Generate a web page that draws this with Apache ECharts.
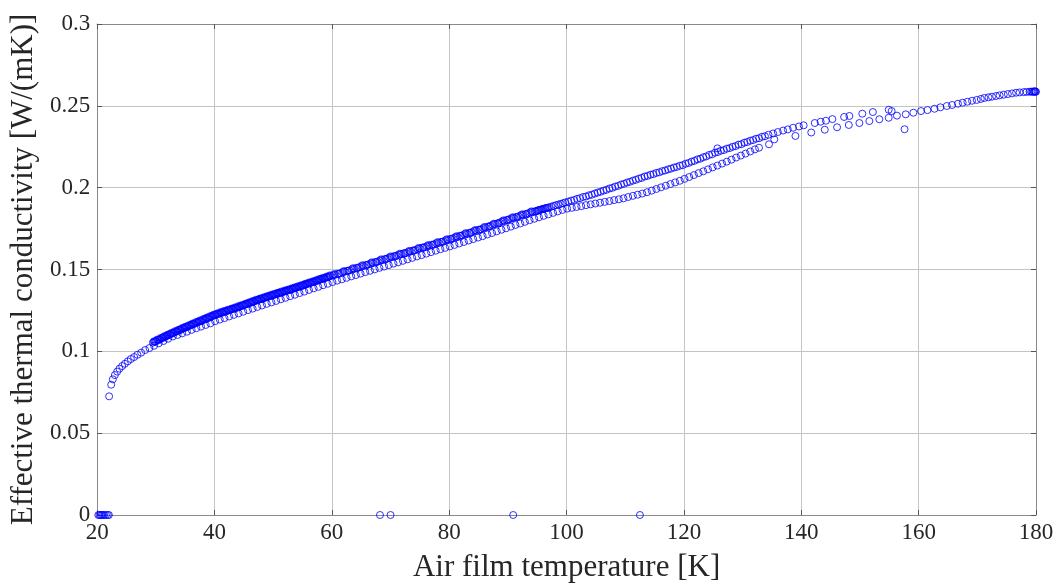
<!DOCTYPE html>
<html>
<head>
<meta charset="utf-8">
<script src="https://cdn.jsdelivr.net/npm/echarts@6/dist/echarts.min.js"></script>
<style>
  html, body { margin: 0; padding: 0; background: #ffffff; }
  #chart { width: 1058px; height: 588px; }
</style>
</head>
<body>
<div id="chart"></div>
<script>
// Axis ranges and ticks
const xRange = [20, 180];
const xStep = 20;
const yRange = [0, 0.3];
const yStep = 0.05;

const xTitle = 'Air film temperature [K]';
const yTitle = 'Effective thermal conductivity [W/(mK)]';

// Lower track: temperature [K], conductivity [W/(mK)]
const lowerTrack = [
  [22.04, 0.0725], [22.39, 0.0796], [22.67, 0.0829], [23.02, 0.0855], [23.41, 0.0876],
  [23.80, 0.0894], [24.26, 0.0910], [24.72, 0.0924], [25.23, 0.0939], [25.74, 0.0953],
  [26.30, 0.0965], [26.87, 0.0979], [27.50, 0.0992], [28.18, 0.1008], [28.91, 0.1020],
  [29.7, 0.1034], [30.5, 0.1049], [31.3, 0.1063], [32.1, 0.1077], [32.9, 0.1091],
  [33.7, 0.1100], [34.5, 0.1110], [35.3, 0.1120], [36.1, 0.1131], [36.9, 0.1141],
  [37.7, 0.1151], [38.5, 0.1161], [39.3, 0.1171], [40.1, 0.1184], [40.9, 0.1194],
  [41.7, 0.1203], [42.5, 0.1213], [43.3, 0.1223], [44.1, 0.1232], [44.9, 0.1242],
  [45.7, 0.1252], [46.5, 0.1261], [47.3, 0.1271], [48.1, 0.1280], [48.9, 0.1290],
  [49.7, 0.1299], [50.5, 0.1308], [51.3, 0.1318], [52.1, 0.1327], [52.9, 0.1337],
  [53.7, 0.1346], [54.5, 0.1356], [55.3, 0.1365], [56.1, 0.1375], [56.9, 0.1385],
  [57.7, 0.1394], [58.5, 0.1404], [59.3, 0.1413], [60.1, 0.1423], [60.9, 0.1432],
  [61.7, 0.1440], [62.5, 0.1449], [63.3, 0.1458], [64.1, 0.1466], [64.9, 0.1475],
  [65.7, 0.1484], [66.5, 0.1492], [67.3, 0.1501], [68.1, 0.1510], [68.9, 0.1518],
  [69.7, 0.1527], [70.5, 0.1536], [71.3, 0.1544], [72.1, 0.1553], [72.9, 0.1562],
  [73.7, 0.1571], [74.5, 0.1580], [75.3, 0.1588], [76.1, 0.1597], [76.9, 0.1606],
  [77.7, 0.1615], [78.5, 0.1624], [79.3, 0.1632], [80.1, 0.1641], [80.9, 0.1650],
  [81.7, 0.1659], [82.5, 0.1668], [83.3, 0.1677], [84.1, 0.1686], [84.9, 0.1695],
  [85.7, 0.1704], [86.5, 0.1714], [87.3, 0.1723], [88.1, 0.1733], [88.9, 0.1743],
  [89.7, 0.1752], [90.5, 0.1762], [91.3, 0.1772], [92.1, 0.1781], [92.9, 0.1791],
  [93.7, 0.1801], [94.5, 0.1810], [95.3, 0.1819], [96.1, 0.1828], [96.9, 0.1837],
  [97.7, 0.1846], [98.5, 0.1855], [99.3, 0.1864], [100.1, 0.1872], [100.9, 0.1877],
  [101.7, 0.1882], [102.5, 0.1887], [103.3, 0.1893], [104.1, 0.1898], [104.9, 0.1903],
  [105.7, 0.1908], [106.5, 0.1913], [107.3, 0.1918], [108.1, 0.1924], [108.9, 0.1929],
  [109.7, 0.1935], [110.5, 0.1943], [111.3, 0.1950], [112.1, 0.1957], [112.9, 0.1964],
  [113.7, 0.1972], [114.5, 0.1982], [115.3, 0.1992], [116.1, 0.2002], [116.9, 0.2012],
  [117.7, 0.2022], [118.5, 0.2032], [119.3, 0.2042], [120.1, 0.2054], [120.9, 0.2065],
  [121.7, 0.2077], [122.5, 0.2089], [123.3, 0.2100], [124.1, 0.2112], [124.9, 0.2124],
  [125.7, 0.2135], [126.5, 0.2147], [127.3, 0.2159], [128.1, 0.2171], [128.9, 0.2184],
  [129.7, 0.2196], [130.5, 0.2208], [131.3, 0.2221], [132.1, 0.2234], [132.8, 0.2244],
  [134.5, 0.2265], [135.4, 0.2295], [139.0, 0.2316], [141.7, 0.2337], [144.0, 0.2354],
  [146.1, 0.2369], [148.1, 0.2383], [149.9, 0.2395], [151.6, 0.2407], [153.3, 0.2418],
  [154.9, 0.2427], [157.6, 0.2357]
];

// Upper track: temperature [K], conductivity [W/(mK)]
const upperTrack = [
  [29.5, 0.1053], [29.8, 0.1059], [30.1, 0.1063], [30.4, 0.1070], [30.7, 0.1074],
  [31.0, 0.1080], [31.3, 0.1086], [31.6, 0.1089], [31.9, 0.1096], [32.2, 0.1099],
  [32.5, 0.1106], [32.8, 0.1109], [33.1, 0.1115], [33.4, 0.1120], [33.7, 0.1124],
  [34.0, 0.1130], [34.3, 0.1133], [34.6, 0.1140], [34.9, 0.1143], [35.2, 0.1148],
  [35.5, 0.1153], [35.8, 0.1157], [36.1, 0.1163], [36.4, 0.1166], [36.7, 0.1172],
  [37.0, 0.1175], [37.3, 0.1181], [37.6, 0.1184], [37.9, 0.1190], [38.2, 0.1193],
  [38.5, 0.1199], [38.8, 0.1202], [39.1, 0.1208], [39.4, 0.1212], [39.7, 0.1217],
  [40.0, 0.1221], [40.3, 0.1226], [40.6, 0.1228], [40.9, 0.1233], [41.2, 0.1236],
  [41.5, 0.1240], [41.8, 0.1243], [42.1, 0.1247], [42.4, 0.1250], [42.7, 0.1255],
  [43.0, 0.1257], [43.3, 0.1262], [43.6, 0.1264], [43.9, 0.1269], [44.2, 0.1272],
  [44.5, 0.1277], [44.8, 0.1279], [45.1, 0.1285], [45.4, 0.1287], [45.7, 0.1293],
  [46.0, 0.1295], [46.3, 0.1301], [46.6, 0.1303], [46.9, 0.1308], [47.2, 0.1311],
  [47.5, 0.1316], [47.8, 0.1318], [48.1, 0.1323], [48.4, 0.1325], [48.7, 0.1330],
  [49.0, 0.1332], [49.3, 0.1337], [49.6, 0.1339], [49.9, 0.1344], [50.2, 0.1346],
  [50.5, 0.1351], [50.8, 0.1352], [51.1, 0.1358], [51.4, 0.1359], [51.7, 0.1365],
  [52.0, 0.1366], [52.3, 0.1371], [52.6, 0.1373], [52.9, 0.1378], [53.2, 0.1380],
  [53.5, 0.1385], [53.8, 0.1387], [54.1, 0.1392], [54.4, 0.1394], [54.7, 0.1399],
  [55.0, 0.1401], [55.3, 0.1407], [55.6, 0.1409], [55.9, 0.1414], [56.2, 0.1416],
  [56.5, 0.1421], [56.8, 0.1423], [57.1, 0.1428], [57.4, 0.1430], [57.7, 0.1436],
  [58.0, 0.1438], [58.3, 0.1443], [58.6, 0.1445], [58.9, 0.1450], [59.2, 0.1452],
  [59.5, 0.1458], [59.8, 0.1460],
  [60.2, 0.1465], [60.6, 0.1468], [61.0, 0.1474], [61.4, 0.1477], [61.8, 0.1483],
  [62.2, 0.1487], [62.6, 0.1492], [63.0, 0.1495], [63.4, 0.1501], [63.8, 0.1504],
  [64.2, 0.1510], [64.6, 0.1513], [65.0, 0.1519], [65.4, 0.1522], [65.8, 0.1528],
  [66.2, 0.1531], [66.6, 0.1537], [67.0, 0.1540], [67.4, 0.1546], [67.8, 0.1549],
  [68.2, 0.1555], [68.6, 0.1558], [69.0, 0.1564], [69.4, 0.1567], [69.8, 0.1573],
  [70.2, 0.1576], [70.6, 0.1582], [71.0, 0.1585], [71.4, 0.1590], [71.8, 0.1593],
  [72.2, 0.1599], [72.6, 0.1602], [73.0, 0.1607], [73.4, 0.1610], [73.8, 0.1616],
  [74.2, 0.1619], [74.6, 0.1625], [75.0, 0.1628], [75.4, 0.1634], [75.8, 0.1637],
  [76.2, 0.1642], [76.6, 0.1645], [77.0, 0.1651], [77.4, 0.1654], [77.8, 0.1660],
  [78.2, 0.1663], [78.6, 0.1669], [79.0, 0.1672], [79.4, 0.1678], [79.8, 0.1681],
  [80.2, 0.1687], [80.6, 0.1690], [81.0, 0.1696], [81.4, 0.1700], [81.8, 0.1706],
  [82.2, 0.1709], [82.6, 0.1715], [83.0, 0.1718], [83.4, 0.1724], [83.8, 0.1728],
  [84.2, 0.1734], [84.6, 0.1737], [85.0, 0.1743], [85.4, 0.1746], [85.8, 0.1752],
  [86.2, 0.1757], [86.6, 0.1762], [87.0, 0.1767], [87.4, 0.1772], [87.8, 0.1777],
  [88.2, 0.1782], [88.6, 0.1787], [89.0, 0.1792], [89.4, 0.1797], [89.8, 0.1803],
  [90.2, 0.1807], [90.6, 0.1812], [91.0, 0.1816], [91.4, 0.1821], [91.8, 0.1825],
  [92.2, 0.1830], [92.6, 0.1834], [93.0, 0.1839], [93.4, 0.1843], [93.8, 0.1848],
  [94.2, 0.1852], [94.6, 0.1856], [95.0, 0.1860], [95.2, 0.1862], [95.4, 0.1864],
  [95.6, 0.1866], [95.8, 0.1868], [96.0, 0.1871], [96.2, 0.1872], [96.4, 0.1874],
  [96.6, 0.1876], [96.8, 0.1877], [97.0, 0.1880], [97.4, 0.1884], [97.8, 0.1889],
  [98.2, 0.1893], [98.6, 0.1897], [99.0, 0.1901], [99.4, 0.1905], [99.8, 0.1910],
  [100.3, 0.1915], [100.8, 0.1921], [101.3, 0.1925], [101.8, 0.1932], [102.3, 0.1936],
  [102.8, 0.1943], [103.3, 0.1946], [103.8, 0.1953], [104.3, 0.1957], [104.8, 0.1964],
  [105.3, 0.1970], [105.8, 0.1975], [106.3, 0.1982], [106.8, 0.1987], [107.3, 0.1995],
  [107.8, 0.1999], [108.3, 0.2007], [108.8, 0.2011], [109.3, 0.2019], [109.8, 0.2024],
  [110.3, 0.2031], [110.8, 0.2036], [111.3, 0.2043], [111.8, 0.2048], [112.3, 0.2055],
  [112.8, 0.2060], [113.3, 0.2068], [113.8, 0.2072], [114.3, 0.2079], [114.8, 0.2083],
  [115.3, 0.2090], [115.8, 0.2094], [116.3, 0.2101], [116.8, 0.2105], [117.3, 0.2112],
  [117.8, 0.2116], [118.3, 0.2123], [118.8, 0.2127], [119.3, 0.2134], [119.8, 0.2138],
  [120.3, 0.2146], [120.8, 0.2151], [121.3, 0.2159], [121.8, 0.2164], [122.3, 0.2173],
  [122.8, 0.2177], [123.3, 0.2186], [123.8, 0.2191], [124.3, 0.2200], [124.8, 0.2204],
  [125.3, 0.2214], [125.7, 0.2240], [125.8, 0.2218], [126.3, 0.2226], [126.8, 0.2230],
  [127.3, 0.2238], [127.8, 0.2242], [128.3, 0.2250], [128.8, 0.2254], [129.3, 0.2263],
  [129.8, 0.2266], [130.3, 0.2275], [130.8, 0.2279], [131.3, 0.2287], [131.8, 0.2291],
  [132.3, 0.2299], [132.8, 0.2302], [133.3, 0.2311], [133.8, 0.2314], [134.4, 0.2323],
  [135.2, 0.2331], [136.0, 0.2340], [136.9, 0.2349], [137.7, 0.2356], [138.6, 0.2366],
  [139.6, 0.2374], [140.4, 0.2381], [142.3, 0.2395], [143.3, 0.2403], [144.2, 0.2409],
  [145.3, 0.2419], [147.3, 0.2432], [148.2, 0.2438], [150.4, 0.2452], [152.2, 0.2462],
  [154.9, 0.2476], [155.4, 0.2468], [156.3, 0.2440], [157.8, 0.2448], [159.1, 0.2458],
  [160.4, 0.2468], [161.5, 0.2474], [162.7, 0.2482], [163.7, 0.2491], [164.8, 0.2499],
  [165.7, 0.2505], [166.7, 0.2513], [167.5, 0.2519], [168.3, 0.2525], [169.1, 0.2531],
  [169.9, 0.2536], [170.6, 0.2542], [171.2, 0.2548], [171.9, 0.2552], [172.5, 0.2556],
  [173.2, 0.2560], [173.8, 0.2564], [174.5, 0.2568], [175.2, 0.2572], [175.9, 0.2576],
  [176.6, 0.2580], [177.2, 0.2582], [177.9, 0.2584], [178.4, 0.2585], [178.9, 0.2586],
  [179.2, 0.2587], [179.4, 0.2586], [179.6, 0.2588], [179.7, 0.2585], [179.8, 0.2589],
  [179.9, 0.2587], [180.0, 0.2586]
];

// Extra readings inside the dense part of the upper track
const upperTrackDense = [
  [29.65, 0.1061], [29.95, 0.1060], [30.25, 0.1072], [30.55, 0.1071], [30.85, 0.1082],
  [31.15, 0.1082], [31.45, 0.1093], [31.75, 0.1092], [32.05, 0.1103], [32.35, 0.1102],
  [32.65, 0.1113], [32.95, 0.1111], [33.25, 0.1123], [33.55, 0.1121], [33.85, 0.1132],
  [34.15, 0.1131], [34.45, 0.1142], [34.75, 0.1141], [35.05, 0.1151], [35.35, 0.1150],
  [35.65, 0.1160], [35.95, 0.1159], [36.25, 0.1170], [36.55, 0.1168], [36.85, 0.1179],
  [37.15, 0.1177], [37.45, 0.1188], [37.75, 0.1186], [38.05, 0.1197], [38.35, 0.1195],
  [38.65, 0.1206], [38.95, 0.1204], [39.25, 0.1215], [39.55, 0.1214], [39.85, 0.1224],
  [40.15, 0.1223], [40.45, 0.1232], [40.75, 0.1230], [41.05, 0.1240], [41.35, 0.1237],
  [41.65, 0.1247], [41.95, 0.1244], [42.25, 0.1254], [42.55, 0.1252], [42.85, 0.1261],
  [43.15, 0.1259], [43.45, 0.1268], [43.75, 0.1266], [44.05, 0.1276], [44.35, 0.1274],
  [44.65, 0.1283], [44.95, 0.1281], [45.25, 0.1291], [45.55, 0.1289], [45.85, 0.1299],
  [46.15, 0.1297], [46.45, 0.1307], [46.75, 0.1305], [47.05, 0.1315], [47.35, 0.1313],
  [47.65, 0.1322], [47.95, 0.1320], [48.25, 0.1329], [48.55, 0.1327], [48.85, 0.1336],
  [49.15, 0.1334], [49.45, 0.1343], [49.75, 0.1341], [50.05, 0.1350], [50.35, 0.1348],
  [50.65, 0.1357], [50.95, 0.1354], [51.25, 0.1364], [51.55, 0.1361], [51.85, 0.1371],
  [52.15, 0.1368], [52.45, 0.1377], [52.75, 0.1375], [53.05, 0.1384], [53.35, 0.1382],
  [53.65, 0.1391], [53.95, 0.1389], [54.25, 0.1398], [54.55, 0.1396], [54.85, 0.1405],
  [55.15, 0.1403], [55.45, 0.1413], [55.75, 0.1411], [56.05, 0.1420], [56.35, 0.1418],
  [56.65, 0.1427], [56.95, 0.1425], [57.25, 0.1434], [57.55, 0.1432], [57.85, 0.1442],
  [58.15, 0.1440], [58.45, 0.1449], [58.75, 0.1447], [59.05, 0.1456], [59.35, 0.1454],
  [59.65, 0.1464],
  [60.4, 0.1472], [61.2, 0.1473], [62.0, 0.1490], [62.8, 0.1491], [63.6, 0.1508],
  [64.4, 0.1509], [65.2, 0.1526], [66.0, 0.1527], [66.8, 0.1544], [67.6, 0.1545],
  [68.4, 0.1562], [69.2, 0.1563], [70.0, 0.1580], [70.8, 0.1581], [71.6, 0.1597],
  [72.4, 0.1598], [73.2, 0.1614], [74.0, 0.1615], [74.8, 0.1632], [75.6, 0.1633],
  [76.4, 0.1649], [77.2, 0.1650], [78.0, 0.1667], [78.8, 0.1668], [79.6, 0.1685],
  [80.4, 0.1686], [81.2, 0.1703], [82.0, 0.1705], [82.8, 0.1722], [83.6, 0.1723],
  [84.4, 0.1741], [85.2, 0.1742], [86.0, 0.1760], [86.8, 0.1762], [87.6, 0.1780],
  [88.4, 0.1782], [89.2, 0.1800], [90.0, 0.1802], [90.8, 0.1819], [91.6, 0.1820],
  [92.4, 0.1837], [93.2, 0.1838], [94.0, 0.1855], [94.8, 0.1855]
];

// Readings that dropped to zero
const zeroReadings = [
  [20.2, 0], [20.4, 0], [20.6, 0], [20.8, 0], [21.0, 0], [21.2, 0], [21.5, 0],
  [21.8, 0], [22.0, 0], [68.2, 0], [70.0, 0], [90.9, 0], [112.5, 0]
];

const markerColor = '#0000ff';
const serif = '"Liberation Serif", "DejaVu Serif", serif';
const textColor = '#262626';
const axisColor = '#8a8a8a';
const gridColor = '#c4c4c4';

const chart = echarts.init(document.getElementById('chart'), null, { renderer: 'canvas' });

function baseAxis(extra) {
  return Object.assign({
    type: 'value',
    axisLine: { show: true, onZero: false, lineStyle: { color: axisColor, width: 1 } },
    axisTick: { show: true, inside: true, length: 5, lineStyle: { color: '#555555', width: 1 } },
    splitLine: { show: false }
  }, extra);
}

// Open rings, no fill, so overlapping readings build up into a solid band
const ringSeries = (name, data) => ({
  name: name,
  type: 'scatter',
  data: data,
  symbol: 'circle',
  symbolSize: 7,
  itemStyle: { color: 'rgba(0,0,0,0)', borderColor: markerColor, borderWidth: 1 },
  emphasis: { disabled: true },
  silent: true,
  animation: false
});

chart.setOption({
  animation: false,
  backgroundColor: '#ffffff',
  grid: { left: 97, right: 22, top: 24, bottom: 73, containLabel: false },
  xAxis: [
    baseAxis({
      position: 'bottom',
      min: xRange[0], max: xRange[1], interval: xStep,
      name: xTitle,
      nameLocation: 'middle',
      nameGap: 37,
      nameTextStyle: { fontFamily: serif, fontSize: 31, color: textColor },
      axisLabel: { show: true, margin: 6, fontFamily: serif, fontSize: 23, color: textColor },
      splitLine: { show: true, lineStyle: { color: gridColor, width: 1 } }
    }),
    baseAxis({
      position: 'top',
      min: xRange[0], max: xRange[1], interval: xStep,
      axisLabel: { show: false }
    })
  ],
  yAxis: [
    baseAxis({
      position: 'left',
      min: yRange[0], max: yRange[1], interval: yStep,
      name: yTitle,
      nameLocation: 'middle',
      nameRotate: 90,
      nameGap: 51,
      nameTextStyle: { fontFamily: serif, fontSize: 31, color: textColor },
      axisLabel: { show: true, margin: 7, fontFamily: serif, fontSize: 23, color: textColor },
      splitLine: { show: true, lineStyle: { color: gridColor, width: 1 } }
    }),
    baseAxis({
      position: 'right',
      min: yRange[0], max: yRange[1], interval: yStep,
      axisLabel: { show: false }
    })
  ],
  series: [
    ringSeries('lower', lowerTrack),
    ringSeries('upper', upperTrack),
    ringSeries('upper dense', upperTrackDense),
    ringSeries('zero', zeroReadings)
  ]
});
</script>
</body>
</html>
